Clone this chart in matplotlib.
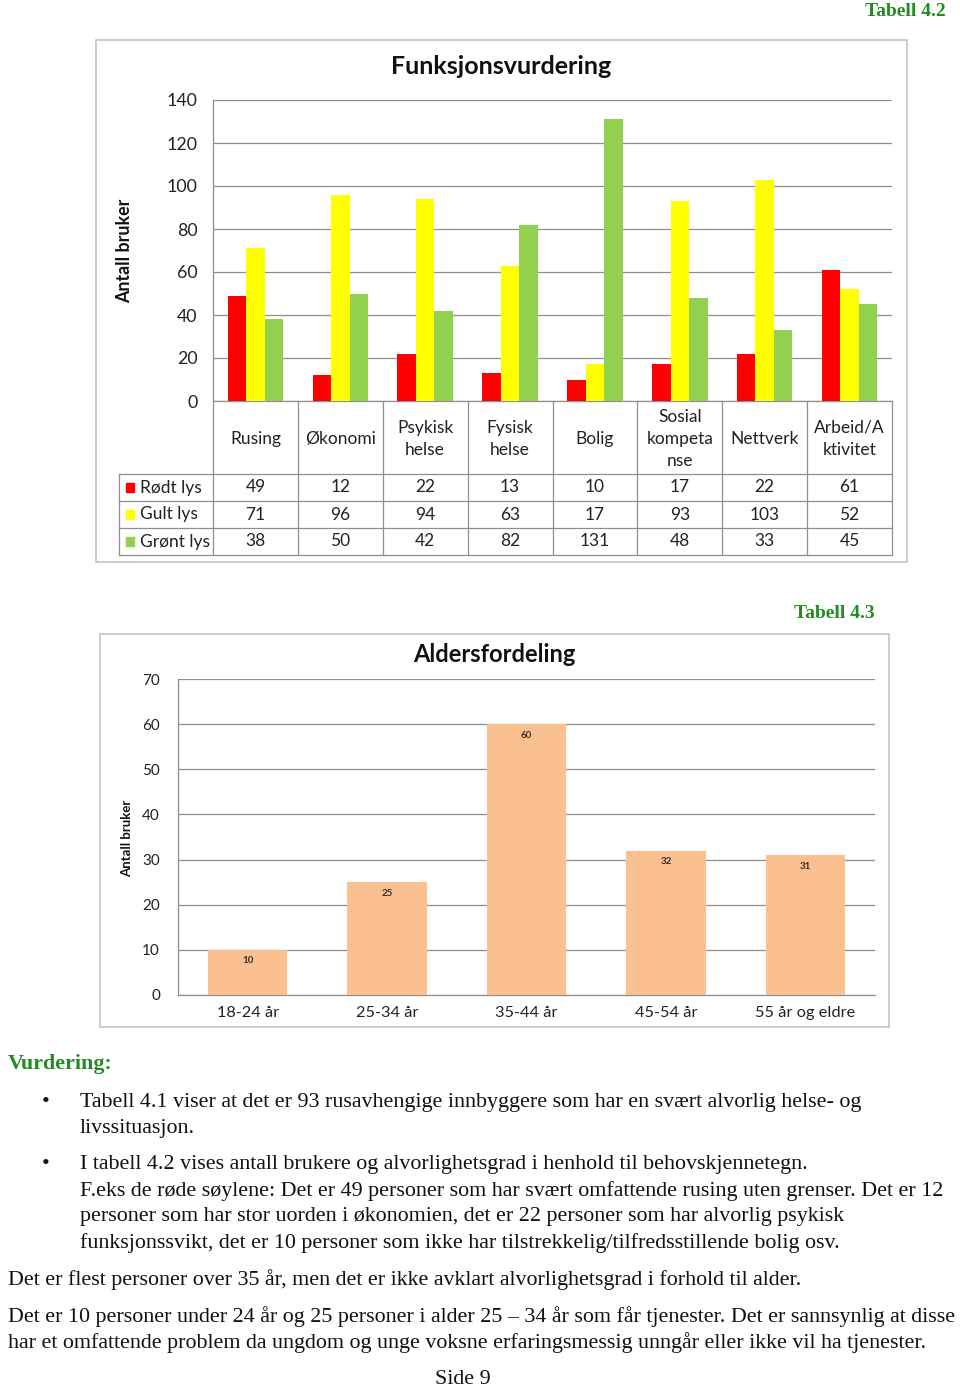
import matplotlib
matplotlib.use('Agg')
import matplotlib.pyplot as plt
from matplotlib.patches import Rectangle
import numpy as np

W, H = 960, 1386

# ---------------- data ----------------
categories = ["Rusing", "Økonomi", "Psykisk\nhelse", "Fysisk\nhelse", "Bolig",
              "Sosial\nkompeta\nnse", "Nettverk", "Arbeid/A\nktivitet"]
series_names = ["Rødt lys", "Gult lys", "Grønt lys"]
rodt_lys = [49, 12, 22, 13, 10, 17, 22, 61]
gult_lys = [71, 96, 94, 63, 17, 93, 103, 52]
gront_lys = [38, 50, 42, 82, 131, 48, 33, 45]
y1_ticks = [0, 20, 40, 60, 80, 100, 120, 140]

age_groups = ["18-24 år", "25-34 år", "35-44 år", "45-54 år", "55 år og eldre"]
age_counts = [10, 25, 60, 32, 31]
y2_ticks = [0, 10, 20, 30, 40, 50, 60, 70]

series_colors = ['#FF0000', '#FFFF00', '#92D050']
SANS = ['Lato', 'DejaVu Sans']
SERIF = ['Liberation Serif', 'DejaVu Serif']
GREEN = '#228B22'
GRID = '#8f8f8f'

fig = plt.figure(figsize=(W / 100, H / 100), dpi=100)


def rect(x0, y0, x1, y1):
    return [x0 / W, 1 - y1 / H, (x1 - x0) / W, (y1 - y0) / H]


# page overlay in pixel coordinates
pg = fig.add_axes([0, 0, 1, 1], zorder=0)
pg.set_xlim(0, W)
pg.set_ylim(H, 0)
pg.axis('off')

# chart frames
pg.add_patch(Rectangle((96, 40), 811, 522, fill=False, ec='#c4c4c4', lw=1.2))
pg.add_patch(Rectangle((100, 634), 789, 393, fill=False, ec='#c4c4c4', lw=1.2))

# ---------------- chart 1 ----------------
ax1 = fig.add_axes(rect(213, 100, 892, 401), zorder=2)
ax1.patch.set_alpha(0)
x = np.arange(len(categories)) + 0.5
bw = 0.218
for k, (vals, col) in enumerate(zip([rodt_lys, gult_lys, gront_lys], series_colors)):
    ax1.bar(x + (k - 1) * bw, vals, width=bw, color=col, zorder=3)
ax1.set_xlim(0, len(categories))
ax1.set_ylim(0, 140)
ax1.set_yticks(y1_ticks)
ax1.set_xticks([])
ax1.grid(axis='y', color=GRID, lw=0.9, zorder=0)
ax1.set_axisbelow(True)
for s in ['top', 'right']:
    ax1.spines[s].set_visible(False)
for s in ['left', 'bottom']:
    ax1.spines[s].set_color(GRID)
    ax1.spines[s].set_linewidth(0.9)
ax1.tick_params(axis='y', length=0, pad=11, labelsize=12.8, labelcolor='#222222')
for lab in ax1.get_yticklabels():
    lab.set_family(SANS)

pg.text(501, 66, "Funksjonsvurdering", ha='center', va='center', fontsize=18,
        fontweight='bold', family=SANS, color='#111111')
pg.text(125, 251, "Antall bruker", ha='center', va='center', rotation=90,
        fontsize=12.8, fontweight='bold', family=SANS, color='#111111')

# data table under chart 1
colw = (892 - 213) / len(categories)
tb = fig.add_axes(rect(119, 401, 892, 555), zorder=2)
tb.set_xlim(-(213 - 119) / colw, len(categories))
tb.set_ylim(555, 401)
tb.axis('off')
rows_y = [474, 501, 528, 555]
lc = GRID
TFS = 12.5
for yy in rows_y:
    tb.plot([tb.get_xlim()[0], len(categories)], [yy, yy], color=lc, lw=0.9, clip_on=False)
for i in range(len(categories) + 1):
    tb.plot([i, i], [401, 555], color=lc, lw=0.9, clip_on=False)
tb.plot([tb.get_xlim()[0]] * 2, [474, 555], color=lc, lw=0.9, clip_on=False)
for i, c in enumerate(categories):
    tb.text(i + 0.5, 439, c, ha='center', va='center', fontsize=TFS,
            family=SANS, color='#222222', linespacing=1.5)
all_vals = [rodt_lys, gult_lys, gront_lys]
legx = tb.get_xlim()[0]
for r, (name, vals, col) in enumerate(zip(series_names, all_vals, series_colors)):
    yc = (rows_y[r] + rows_y[r + 1]) / 2
    tb.add_patch(Rectangle((legx + 7 / colw, yc - 4.5), 8 / colw, 9, color=col, clip_on=False))
    tb.text(legx + 21 / colw, yc, name, ha='left', va='center', fontsize=TFS,
            family=SANS, color='#222222')
    for i, v in enumerate(vals):
        tb.text(i + 0.5, yc, str(v), ha='center', va='center', fontsize=TFS,
                family=SANS, color='#222222')

# ---------------- chart 2 ----------------
ax2 = fig.add_axes(rect(178, 679, 875, 995), zorder=2)
ax2.patch.set_alpha(0)
x2 = np.arange(len(age_groups))
bars = ax2.bar(x2, age_counts, width=0.57, color='#FAC090', zorder=3)
ax2.set_xlim(-0.5, len(age_groups) - 0.5)
ax2.set_ylim(0, 70)
ax2.set_yticks(y2_ticks)
ax2.set_xticks(x2)
ax2.set_xticklabels(age_groups)
ax2.grid(axis='y', color=GRID, lw=0.9, zorder=0)
ax2.set_axisbelow(True)
for s in ['top', 'right']:
    ax2.spines[s].set_visible(False)
for s in ['left', 'bottom']:
    ax2.spines[s].set_color(GRID)
    ax2.spines[s].set_linewidth(0.9)
ax2.tick_params(axis='y', length=0, pad=13, labelsize=11, labelcolor='#222222')
ax2.tick_params(axis='x', length=0, pad=8, labelsize=11.8, labelcolor='#222222')
for lab in ax2.get_yticklabels() + ax2.get_xticklabels():
    lab.set_family(SANS)
for b, v in zip(bars, age_counts):
    ax2.annotate(str(v), (b.get_x() + b.get_width() / 2, v), xytext=(0, -8),
                 textcoords='offset points', ha='center', va='center',
                 fontsize=7, fontweight='bold', family=SANS, color='#3a2a2a')

pg.text(494, 654, "Aldersfordeling", ha='center', va='center', fontsize=17,
        fontweight='bold', family=SANS, color='#111111')
pg.text(127, 838, "Antall bruker", ha='center', va='center', rotation=90,
        fontsize=9.5, fontweight='bold', family=['Liberation Sans Narrow', 'Lato'],
        color='#111111')

# ---------------- page text ----------------
pg.text(946, 12, "Tabell 4.2", ha='right', va='center', fontsize=14,
        fontweight='bold', family=SERIF, color=GREEN)
pg.text(875, 613, "Tabell 4.3", ha='right', va='center', fontsize=14,
        fontweight='bold', family=SERIF, color=GREEN)
pg.text(8, 1064, "Vurdering:", ha='left', va='center', fontsize=15.8,
        fontweight='bold', family=SERIF, color=GREEN)

BODY = 15.8
lines_bullet = [
    (1103, True, "Tabell 4.1 viser at det er 93 rusavhengige innbyggere som har en svært alvorlig helse- og"),
    (1129, False, "livssituasjon."),
    (1165, True, "I tabell 4.2 vises antall brukere og alvorlighetsgrad i henhold til behovskjennetegn."),
    (1191, False, "F.eks de røde søylene: Det er 49 personer som har svært omfattende rusing uten grenser. Det er 12"),
    (1217, False, "personer som har stor uorden i økonomien, det er 22 personer som har alvorlig psykisk"),
    (1243, False, "funksjonssvikt, det er 10 personer som ikke har tilstrekkelig/tilfredsstillende bolig osv."),
]
for yy, bullet, t in lines_bullet:
    if bullet:
        pg.text(46, yy, "•", ha='center', va='center', fontsize=BODY, family=SERIF, color='#111111')
    pg.text(80, yy, t, ha='left', va='center', fontsize=BODY, family=SERIF, color='#111111')

plain = [
    (1280, "Det er flest personer over 35 år, men det er ikke avklart alvorlighetsgrad i forhold til alder."),
    (1317, "Det er 10 personer under 24 år og 25 personer i alder 25 – 34 år som får tjenester. Det er sannsynlig at disse"),
    (1343, "har et omfattende problem da ungdom og unge voksne erfaringsmessig unngår eller ikke vil ha tjenester."),
]
for yy, t in plain:
    pg.text(8, yy, t, ha='left', va='center', fontsize=BODY, family=SERIF, color='#111111')
pg.text(463, 1379, "Side 9", ha='center', va='center', fontsize=BODY, family=SERIF, color='#111111')

fig.savefig("out.png", dpi=100)
